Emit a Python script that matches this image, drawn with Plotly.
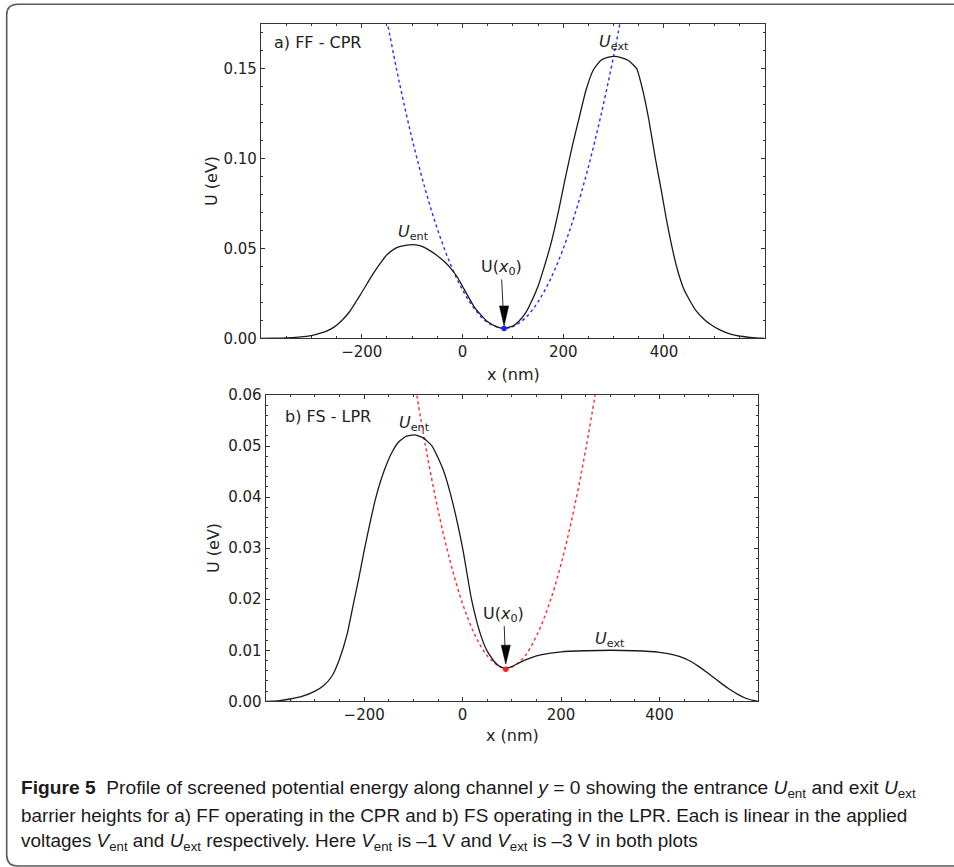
import plotly.graph_objects as go

W, H = 954, 867

# ---------------- data ----------------
# a) FF - CPR : potential profile
xa = [-400, -375, -350, -325, -300, -287, -270, -255, -240, -225, -210, -200, -185, -175,
      -160, -150, -135, -125, -110, -100, -85, -75, -60, -50, -35, -25, -10, 0, 25, 50, 70,
      82, 100, 112, 125, 137, 150, 162, 175, 190, 204, 218, 231, 245, 260, 275, 290, 301,
      315, 330, 346, 358, 370, 383, 395, 405, 415, 425, 440, 462, 480, 492, 510, 525, 540,
      557, 575, 600]
ua = [0.0, 0.00005, 0.0002, 0.0007, 0.0015, 0.0024, 0.0040, 0.0062, 0.0098, 0.0145, 0.021,
      0.0255, 0.0325, 0.037, 0.043, 0.0465, 0.0498, 0.051, 0.0519, 0.0522, 0.0516, 0.0505,
      0.048, 0.046, 0.0425, 0.0395, 0.034, 0.029, 0.0168, 0.0092, 0.0062, 0.0055, 0.0068,
      0.0095, 0.0140, 0.0205, 0.029, 0.0395, 0.052, 0.070, 0.089, 0.107, 0.122, 0.138,
      0.1495, 0.1548, 0.1565, 0.157, 0.1563, 0.1545, 0.150, 0.138, 0.1216, 0.100, 0.082,
      0.066, 0.052, 0.040, 0.027, 0.016, 0.0105, 0.0078, 0.0048, 0.003, 0.0018, 0.001,
      0.0004, 0.0]
# a) harmonic approximation (blue dotted)
xpa = [-150, -125, -100, -75, -50, -25, 0, 25, 50, 82, 100, 125, 150, 175, 200, 225, 250, 275, 300, 317]
upa = [0.177, 0.142, 0.111, 0.084, 0.061, 0.042, 0.027, 0.016, 0.0088, 0.0055, 0.0065,
       0.0114, 0.0203, 0.0331, 0.0499, 0.0707, 0.0955, 0.1243, 0.157, 0.182]
x0a, u0a = 82.6, 0.0055

# b) FS - LPR : potential profile
xb = [-400, -375, -350, -325, -300, -282, -265, -250, -235, -222, -210, -200, -188, -176,
      -160, -145, -130, -115, -98, -80, -62, -40, -23, 0, 18, 35, 49, 65, 78, 88, 100, 125,
      150, 175, 200, 250, 300, 350, 400, 420, 440, 460, 480, 500, 520, 540, 560, 575, 590, 600]
ub = [0.0, 0.0001, 0.00045, 0.0010, 0.0020, 0.0031, 0.0050, 0.0083, 0.013, 0.019, 0.0245,
      0.0295, 0.035, 0.040, 0.045, 0.0485, 0.0508, 0.0519, 0.0522, 0.0516, 0.050, 0.0455,
      0.040, 0.030, 0.020, 0.0135, 0.010, 0.0077, 0.0067, 0.0065, 0.0068, 0.0080, 0.0089,
      0.0094, 0.0097, 0.0099, 0.0100, 0.0099, 0.0096, 0.0093, 0.0088, 0.0080, 0.0068,
      0.0054, 0.0039, 0.0025, 0.0013, 0.0006, 0.0002, 0.0]
# b) harmonic approximation (red dotted)
xpb = [-95, -75, -50, -25, 0, 25, 50, 75, 88, 100, 125, 150, 175, 200, 225, 250, 275]
upb = [0.0611, 0.0498, 0.0375, 0.0273, 0.0191, 0.013, 0.0089, 0.0068, 0.0065, 0.0067,
       0.0087, 0.0128, 0.0188, 0.0269, 0.0371, 0.0493, 0.0635]
x0b, u0b = 87.7, 0.0063

xticks = [-200, 0, 200, 400]
yticks_a = [0.00, 0.05, 0.10, 0.15]
yticks_b = [0.00, 0.01, 0.02, 0.03, 0.04, 0.05, 0.06]

caption = [
    "<b>Figure 5</b>\u00a0\u00a0Profile of screened potential energy along channel <i>y</i> = 0 showing the entrance <i>U</i><sub>ent</sub> and exit <i>U</i><sub>ext</sub>",
    "barrier heights for a) FF operating in the CPR and b) FS operating in the LPR. Each is linear in the applied",
    "voltages <i>V</i><sub>ent</sub> and <i>U</i><sub>ext</sub> respectively. Here <i>V</i><sub>ent</sub> is \u20131 V and <i>V</i><sub>ext</sub> is \u20133 V in both plots",
]

# ---------------- helpers ----------------
def px(x):
    return x / W

def py(y):
    return 1 - y / H

FONT = "DejaVu Sans"
INK = "#222222"
AX = "#333333"

fig = go.Figure()

line_k = dict(color="#1a1a1a", width=1.3, shape="spline", smoothing=0.5)
fig.add_trace(go.Scatter(x=xpa, y=upa, mode="lines", xaxis="x", yaxis="y",
                         line=dict(color="#2a2aff", width=1.4, dash="dot", shape="spline"),
                         hoverinfo="skip"))
fig.add_trace(go.Scatter(x=xa, y=ua, mode="lines", xaxis="x", yaxis="y", line=line_k,
                         hoverinfo="skip"))
fig.add_trace(go.Scatter(x=[x0a], y=[u0a], mode="markers", xaxis="x", yaxis="y",
                         marker=dict(color="#1f1fff", size=5.5), hoverinfo="skip"))

fig.add_trace(go.Scatter(x=xpb, y=upb, mode="lines", xaxis="x2", yaxis="y2",
                         line=dict(color="#ff2a2a", width=1.4, dash="dot", shape="spline"),
                         hoverinfo="skip"))
fig.add_trace(go.Scatter(x=xb, y=ub, mode="lines", xaxis="x2", yaxis="y2", line=line_k,
                         hoverinfo="skip"))
fig.add_trace(go.Scatter(x=[x0b], y=[u0b], mode="markers", xaxis="x2", yaxis="y2",
                         marker=dict(color="#ff1f1f", size=5.5), hoverinfo="skip"))

def xax(domain):
    return dict(domain=domain, range=[-400, 600], tickmode="array", tickvals=xticks,
                ticks="inside", ticklen=4, tickwidth=1, tickcolor=AX,
                minor=dict(tickmode="linear", tick0=0, dtick=50, ticks="inside", ticklen=2,
                           tickcolor=AX, tickwidth=1),
                showline=True, linecolor=AX, linewidth=1.3, mirror="allticks",
                showgrid=False, zeroline=False, automargin=False,
                tickfont=dict(family=FONT, size=15, color=INK))

def yax(domain, rng, vals, mdt):
    return dict(domain=domain, range=rng, tickmode="array", tickvals=vals,
                ticktext=["%.2f" % v for v in vals],
                ticks="inside", ticklen=4, tickwidth=1, tickcolor=AX,
                minor=dict(tickmode="linear", tick0=0, dtick=mdt, ticks="inside", ticklen=2,
                           tickcolor=AX, tickwidth=1),
                showline=True, linecolor=AX, linewidth=1.3, mirror="allticks",
                showgrid=False, zeroline=False, automargin=False,
                tickfont=dict(family=FONT, size=15, color=INK))

fig.update_layout(
    width=W, height=H, margin=dict(l=0, r=0, t=0, b=0, pad=0, autoexpand=False),
    paper_bgcolor="white", plot_bgcolor="white", showlegend=False,
    xaxis=dict(**xax([px(261), px(764.7)]), anchor="y"),
    yaxis=dict(**yax([py(338.3), py(24)], [0, 0.175], yticks_a, 0.01), anchor="x"),
    xaxis2=dict(**xax([px(265.7), px(758)]), anchor="y2"),
    yaxis2=dict(**yax([py(701.3), py(395)], [0, 0.06], yticks_b, 0.002), anchor="x2"),
)

ann = []
def add_text(text, x, y, xref="paper", yref="paper", size=15, xanchor="center",
             yanchor="middle", angle=0, family=FONT, color=INK):
    ann.append(dict(text=text, x=x, y=y, xref=xref, yref=yref, showarrow=False,
                    xanchor=xanchor, yanchor=yanchor, textangle=angle,
                    font=dict(family=family, size=size, color=color)))

# panel labels
add_text("a) FF - CPR", px(271.7), py(42.7), xanchor="left", size=16)
add_text("b) FS - LPR", px(282.7), py(416), xanchor="left", size=16)
# axis titles
add_text("x (nm)", px(513), py(375), size=16)
add_text("x (nm)", px(512), py(735), size=16)
add_text("U (eV)", px(211), py(181), angle=-90, size=16)
add_text("U (eV)", px(213), py(548), angle=-90, size=16)
# barrier labels
add_text("<i>U</i><sub>ent</sub>", -98, 0.0587, "x", "y", size=16)
add_text("<i>U</i><sub>ext</sub>", 300, 0.1645, "x", "y", size=16)
add_text("<i>U</i><sub>ent</sub>", -98.7, 0.0545, "x2", "y2", size=16)
add_text("<i>U</i><sub>ext</sub>", 299.5, 0.0121, "x2", "y2", size=16)

# U(x0) annotations with arrows
for (xr, yr, xx, uu, axp, ayp) in [("x", "y", x0a, u0a, -3, -61), ("x2", "y2", x0b, u0b, -2, -55)]:
    ann.append(dict(text="U(<i>x</i><sub>0</sub>)", x=xx, y=uu, xref=xr, yref=yr,
                    showarrow=True, arrowhead=0, arrowwidth=0.9, arrowcolor="#111",
                    ax=axp, ay=ayp, standoff=6,
                    font=dict(family=FONT, size=16, color=INK)))

# caption
for i, (t, yy) in enumerate(zip(caption, [789, 815.5, 842])):
    add_text(t, px(19), py(yy), xanchor="left", family="Liberation Sans",
             size=19.2 if i == 0 else 18.9, color="#1a1a1a")

shapes = []
# arrowheads (pixel-sized, anchored at the marked point)
for (xr, yr, xx, uu, tip, base) in [("x", "y", x0a, u0a, 2.3, 22.5), ("x2", "y2", x0b, u0b, 5, 24)]:
    shapes.append(dict(type="path", xref=xr, yref=yr, xsizemode="pixel", ysizemode="pixel",
                       xanchor=xx, yanchor=uu,
                       path="M -4.6,%g L 4.6,%g L 0,%g Z" % (base, base, tip),
                       fillcolor="#000", line=dict(color="#000", width=0.5)))

# rounded frame around figure (right side lies outside the picture)
r = 11
L, T, B = 6.7, 4.3, 866
frame = ("M %f,%f L %f,%f Q %f,%f %f,%f L %f,%f Q %f,%f %f,%f L %f,%f" % (
    1.0, py(T), px(L + r), py(T), px(L), py(T), px(L), py(T + r),
    px(L), py(B - r), px(L), py(B), px(L + r), py(B), 1.0, py(B)))
shapes.append(dict(type="path", xref="paper", yref="paper", path=frame,
                   line=dict(color="#5a5a5a", width=1.6)))

fig.update_layout(annotations=ann, shapes=shapes)
fig.write_html("out.html")
